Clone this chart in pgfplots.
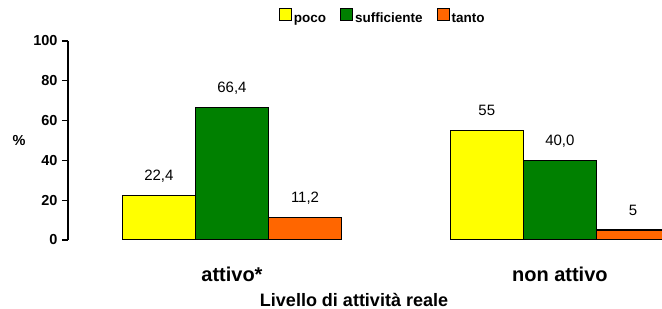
\documentclass[border=0pt]{standalone}
\usepackage{pgfplots}
\pgfplotsset{compat=1.18}
\usepackage{fontspec}
\setmainfont{Liberation Sans}
\definecolor{cyel}{HTML}{FFFF00}
\definecolor{cgrn}{HTML}{008000}
\definecolor{corg}{HTML}{FF6600}
\begin{document}
\begin{tikzpicture}
\useasboundingbox (0,0) rectangle (662bp,309bp);
\begin{axis}[
  at={(68bp,69bp)}, anchor=south west,
  scale only axis, width=594bp, height=199bp,
  xmin=-0.5, xmax=1.3115, ymin=0, ymax=100,
  ybar, bar width=0.2229,
  axis y line=left, axis x line*=bottom,
  x axis line style={draw=none},
  axis line style={-, line width=1.2bp},
  y axis line style={line width=1.2bp},
  ytick={0,20,40,60,80,100},
  tick align=outside, major tick length=6bp,
  major x tick style={draw=none},
  ytick style={line width=1.2bp, black},
  /pgf/number format/assume math mode=true,
  yticklabel style={font=\bfseries\fontsize{14.5bp}{17bp}\selectfont, xshift=-1bp},
  xtick={0,1}, xticklabels={attivo*, non attivo},
  xticklabel style={font=\bfseries\fontsize{20bp}{23bp}\selectfont, anchor=base, yshift=-35bp},
  xlabel={Livello di attività reale},
  xlabel style={font=\bfseries\fontsize{18bp}{21bp}\selectfont, at={(axis description cs:0.4815,0)}, anchor=base, yshift=-66bp},
  ylabel={\%},
  ylabel style={font=\bfseries\fontsize{14.5bp}{17bp}\selectfont, rotate=-90, at={(axis description cs:-0.0825,0.5)}, anchor=center},
  point meta=explicit symbolic,
  nodes near coords={\pgfplotspointmeta},
  nodes near coords style={font=\fontsize{15bp}{17bp}\selectfont, black, anchor=base, yshift=15bp},
  legend columns=3,
  legend style={at={(0.530,1.116)}, anchor=center, draw=none, fill=none,
    font=\bfseries\fontsize{13.5bp}{16bp}\selectfont,
    nodes={text height=10bp, text depth=3bp, inner xsep=2bp},
    /tikz/every even column/.append style={column sep=12bp},
    inner sep=0pt},
  every axis plot post/.append style={legend image code/.code={\draw[#1, draw=black, line width=1bp] (0bp,-1.5bp) rectangle (12bp,10.5bp);}},
]
\addplot[fill=cyel, draw=black, line width=1.2bp, bar shift=-0.2229] coordinates {(0,22.4) [22{,}4] (1,55) [55]};
\addplot[fill=cgrn, draw=black, line width=1.2bp, bar shift=0] coordinates {(0,66.4) [66{,}4] (1,40.0) [40{,}0]};
\addplot[fill=corg, draw=black, line width=1.2bp, bar shift=0.2229] coordinates {(0,11.2) [11{,}2] (1,5) [5]};
\legend{poco, sufficiente, tanto}
\end{axis}
\end{tikzpicture}
\end{document}
